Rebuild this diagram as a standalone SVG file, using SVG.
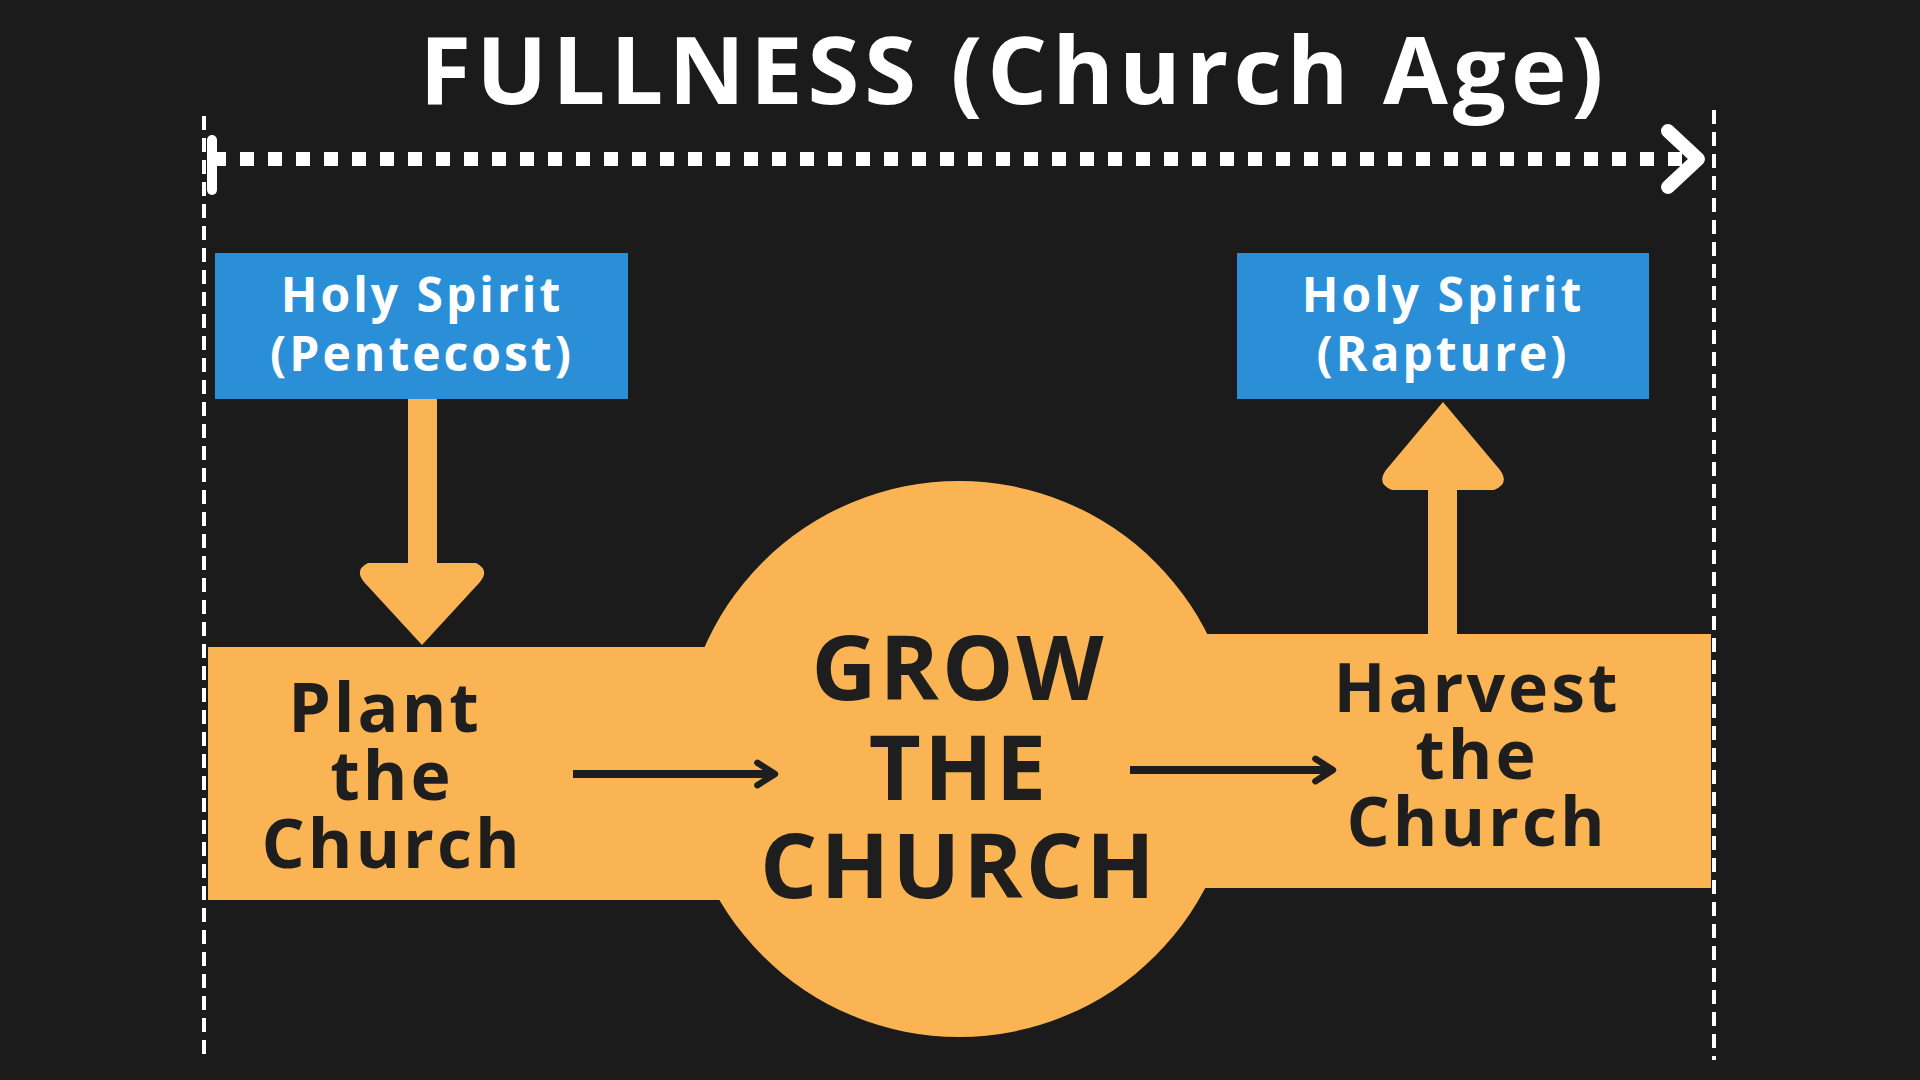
<svg xmlns="http://www.w3.org/2000/svg" width="1920" height="1080" viewBox="0 0 1920 1080">
<style>
.t{font-family:"Open Sans","Liberation Sans",sans-serif;font-weight:bold;text-anchor:middle;letter-spacing:3px}
.w{fill:#fff}
.d{fill:#1e1e1e}
.b{fill:#2b8fd8}
.o{fill:#fbb454}
</style>
<defs>
<marker id="ah" viewBox="0 0 10 10" refX="7" refY="5" markerWidth="4" markerHeight="4" orient="auto" markerUnits="strokeWidth"><path d="M1.5,1.5 L7,5 L1.5,8.5" fill="none" stroke="#1e1e1e" stroke-width="2" stroke-linecap="round" stroke-linejoin="round"/></marker>
</defs>
<rect width="1920" height="1080" fill="#1b1b1b"/>
<text class="t w" x="1014" y="104" font-size="94" style="letter-spacing:5px">FULLNESS (Church Age)</text>
<g id="timeline" fill="none" stroke="#fff">
<line x1="204" y1="116" x2="204" y2="1060" stroke-width="4" stroke-dasharray="14 8"/>
<line x1="1714" y1="110" x2="1714" y2="1060" stroke-width="4" stroke-dasharray="14 8"/>
<line x1="212" y1="159" x2="1690" y2="159" stroke-width="14" stroke-dasharray="14 14"/>
<path d="M1668,131 L1698,159 L1668,187" stroke-width="14" stroke-linecap="round" stroke-linejoin="round"/>
<line x1="212" y1="140" x2="212" y2="190" stroke-width="10" stroke-linecap="round"/>
</g>
<g id="band">
<rect class="o" x="208" y="647" width="540" height="253"/>
<rect class="o" x="1170" y="634" width="541" height="254"/>
<circle class="o" cx="959" cy="759" r="278"/>
</g>
<g id="pentecost">
<rect class="b" x="215" y="253" width="413" height="146"/>
<text class="t w" x="422" y="312" font-size="48">Holy Spirit</text>
<text class="t w" x="422" y="371" font-size="48">(Pentecost)</text>
</g>
<g id="rapture">
<rect class="b" x="1237" y="253" width="412" height="146"/>
<text class="t w" x="1443" y="312" font-size="48">Holy Spirit</text>
<text class="t w" x="1443" y="371" font-size="48">(Rapture)</text>
</g>
<g id="connectors">
<path class="o" d="M408,399 H437 V563 H476 Q490,570 480,582 L422,645 L364,582 Q354,570 368,563 H408 Z"/>
<path class="o" d="M1428,634 H1457 V490 H1494 Q1510,484 1500,470 L1443,402 L1386,470 Q1376,484 1392,490 H1428 Z"/>
<line x1="573" y1="774" x2="775" y2="774" stroke="#1e1e1e" stroke-width="8" marker-end="url(#ah)"/>
<line x1="1130" y1="770" x2="1333" y2="770" stroke="#1e1e1e" stroke-width="8" marker-end="url(#ah)"/>
</g>
<g id="plant">
<text class="t d" x="385" y="732" font-size="68">Plant</text>
<text class="t d" x="392" y="800" font-size="68">the</text>
<text class="t d" x="392" y="868" font-size="68">Church</text>
</g>
<g id="grow">
<text class="t d" x="959" y="700" font-size="90">GROW</text>
<text class="t d" x="959" y="800" font-size="90">THE</text>
<text class="t d" x="959" y="898" font-size="90">CHURCH</text>
</g>
<g id="harvest">
<text class="t d" x="1477" y="712" font-size="68">Harvest</text>
<text class="t d" x="1477" y="779" font-size="68">the</text>
<text class="t d" x="1477" y="846" font-size="68">Church</text>
</g>
</svg>
